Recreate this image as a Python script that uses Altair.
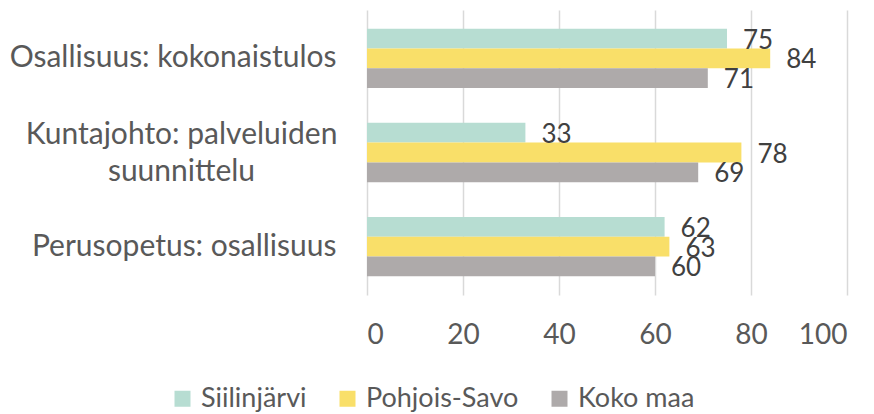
import altair as alt
import pandas as pd

categories = ["Osallisuus: kokonaistulos", "Kuntajohto: palveluiden suunnittelu", "Perusopetus: osallisuus"]
series = ["Siilinjärvi", "Pohjois-Savo", "Koko maa"]
siilinjarvi = [75, 33, 62]
pohjois_savo = [84, 78, 63]
koko_maa = [71, 69, 60]
colors = ["#B7DDD2", "#F9DF69", "#AEAAAA"]
x_ticks = [0, 20, 40, 60, 80, 100]

rows = []
for s, vals in zip(series, [siilinjarvi, pohjois_savo, koko_maa]):
    for c, v in zip(categories, vals):
        rows.append({"Alue": s, "Kategoria": c, "Arvo": v})
df = pd.DataFrame(rows)

FONT = "Lato"
multi = "datum.value == 'Kuntajohto: palveluiden suunnittelu'"

base = alt.Chart(df).encode(
    y=alt.Y(
        "Kategoria:N",
        sort=categories,
        title=None,
        scale=alt.Scale(paddingInner=0.37, paddingOuter=0.2),
        axis=alt.Axis(
            domain=False,
            ticks=False,
            grid=False,
            labelFont=FONT,
            labelFontSize=30,
            labelColor="#595959",
            labelLimit=400,
            labelLineHeight=37,
            labelExpr=multi + " ? ['Kuntajohto: palveluiden', 'suunnittelu'] : datum.label",
            labelAlign={"condition": {"test": multi, "value": "center"}, "value": "right"},
            labelPadding={"condition": {"test": multi, "value": 186}, "value": 31},
            labelOffset={"condition": {"test": multi, "value": -18}, "value": 0},
        ),
    ),
    yOffset=alt.YOffset("Alue:N", sort=series),
    x=alt.X(
        "Arvo:Q",
        title=None,
        scale=alt.Scale(domain=[0, 100], nice=False),
        axis=alt.Axis(
            values=x_ticks,
            domain=False,
            ticks=False,
            gridColor="#D9D9D9",
            gridWidth=1.5,
            labelFont=FONT,
            labelFontSize=28,
            labelColor="#595959",
            labelPadding=26,
        ),
    ),
)

bars = base.mark_bar().encode(
    color=alt.Color(
        "Alue:N",
        sort=series,
        scale=alt.Scale(domain=series, range=colors),
        legend=alt.Legend(
            title=None,
            orient="none",
            direction="horizontal",
            legendX=-198,
            legendY=375,
            padding=0,
            symbolType="square",
            symbolSize=256,
            symbolStrokeWidth=0,
            labelFont=FONT,
            labelFontSize=27,
            labelColor="#595959",
            labelOffset=5,
            columnPadding=27,
        ),
    )
)

text = base.mark_text(
    align="left", baseline="middle", dx=16, dy=2, font=FONT, fontSize=26, color="#404040"
).encode(text="Arvo:Q")

chart = (
    (bars + text)
    .properties(
        width=480,
        height=285,
        autosize=alt.AutoSizeParams(type="none"),
        padding={"left": 359, "top": 2, "right": 15, "bottom": 122},
    )
    .configure_view(stroke=None)
)

chart.save("out.html", embed_options={"renderer": "svg", "actions": False})
